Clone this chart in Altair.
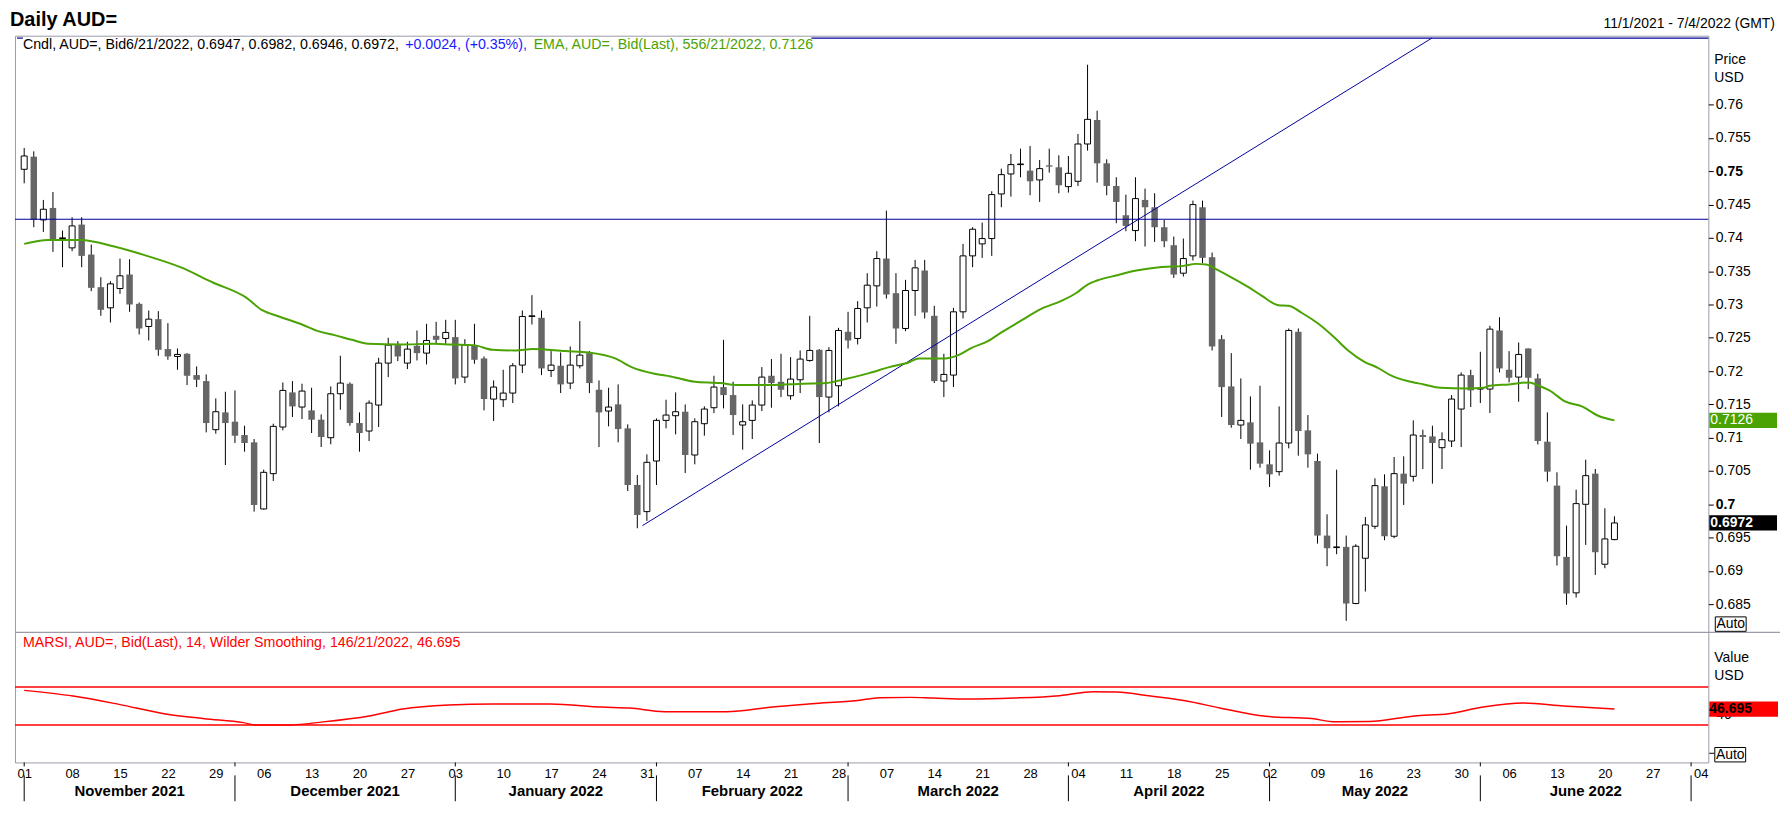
import altair as alt
import pandas as pd

# ---------------- data ----------------
OPEN = [0.7503, 0.7522, 0.7427, 0.7445, 0.7399, 0.7385, 0.7420, 0.7375, 0.7326, 0.7295,
        0.7324, 0.7345, 0.7301, 0.7267, 0.7278, 0.7233, 0.7222, 0.7226, 0.7194, 0.7185,
        0.7112, 0.7138, 0.7124, 0.7104, 0.7093, 0.6993, 0.7046, 0.7116, 0.7168, 0.7146,
        0.7141, 0.7127, 0.7100, 0.7166, 0.7181, 0.7122, 0.7110, 0.7149, 0.7212, 0.7239,
        0.7212, 0.7238, 0.7227, 0.7253, 0.7249, 0.7251, 0.7191, 0.7238, 0.7219, 0.7158,
        0.7157, 0.7167, 0.7209, 0.7282, 0.7280, 0.7201, 0.7208, 0.7182, 0.7208, 0.7227,
        0.7172, 0.7140, 0.7150, 0.7114, 0.7029, 0.6989, 0.7065, 0.7126, 0.7133, 0.7139,
        0.7074, 0.7121, 0.7145, 0.7176, 0.7164, 0.7119, 0.7126, 0.7149, 0.7193, 0.7184,
        0.7163, 0.7187, 0.7216, 0.7232, 0.7161, 0.7178, 0.7259, 0.7249, 0.7295, 0.7328,
        0.7369, 0.7317, 0.7264, 0.7321, 0.7351, 0.7283, 0.7185, 0.7194, 0.7289, 0.7373,
        0.7391, 0.7399, 0.7466, 0.7496, 0.7510, 0.7501, 0.7487, 0.7509, 0.7506, 0.7477,
        0.7485, 0.7541, 0.7577, 0.7512, 0.7478, 0.7434, 0.7411, 0.7457, 0.7446, 0.7416,
        0.7389, 0.7347, 0.7373, 0.7446, 0.7371, 0.7248, 0.7177, 0.7119, 0.7123, 0.7093,
        0.7060, 0.7049, 0.7092, 0.7259, 0.7111, 0.7065, 0.6953, 0.6935, 0.6936, 0.6851,
        0.6919, 0.6967, 0.7027, 0.6952, 0.7046, 0.7042, 0.7104, 0.7102, 0.7085, 0.7095,
        0.7143, 0.7194, 0.7173, 0.7173, 0.7261, 0.7202, 0.7191, 0.7234, 0.7189, 0.7094,
        0.7028, 0.6921, 0.6867, 0.7000, 0.7046, 0.6910, 0.6947]
HIGH = [0.7535, 0.7530, 0.7457, 0.7469, 0.7411, 0.7431, 0.7431, 0.7390, 0.7341, 0.7335,
        0.7369, 0.7368, 0.7303, 0.7291, 0.7290, 0.7272, 0.7234, 0.7227, 0.7207, 0.7195,
        0.7159, 0.7169, 0.7171, 0.7118, 0.7098, 0.7052, 0.7121, 0.7183, 0.7185, 0.7181,
        0.7175, 0.7135, 0.7177, 0.7223, 0.7183, 0.7138, 0.7156, 0.7220, 0.7250, 0.7245,
        0.7244, 0.7261, 0.7271, 0.7274, 0.7277, 0.7277, 0.7248, 0.7271, 0.7222, 0.7186,
        0.7202, 0.7212, 0.7291, 0.7314, 0.7291, 0.7230, 0.7228, 0.7237, 0.7275, 0.7230,
        0.7186, 0.7175, 0.7180, 0.7120, 0.7044, 0.7075, 0.7129, 0.7157, 0.7168, 0.7150,
        0.7129, 0.7147, 0.7193, 0.7247, 0.7184, 0.7150, 0.7156, 0.7206, 0.7218, 0.7226,
        0.7221, 0.7231, 0.7283, 0.7233, 0.7236, 0.7265, 0.7289, 0.7305, 0.7347, 0.7380,
        0.7441, 0.7347, 0.7337, 0.7367, 0.7367, 0.7298, 0.7226, 0.7295, 0.7391, 0.7416,
        0.7423, 0.7470, 0.7504, 0.7526, 0.7534, 0.7538, 0.7517, 0.7534, 0.7524, 0.7523,
        0.7556, 0.7660, 0.7591, 0.7518, 0.7491, 0.7465, 0.7491, 0.7474, 0.7467, 0.7427,
        0.7402, 0.7399, 0.7456, 0.7456, 0.7378, 0.7254, 0.7227, 0.7189, 0.7162, 0.7178,
        0.7081, 0.7147, 0.7264, 0.7264, 0.7134, 0.7076, 0.6985, 0.7052, 0.6953, 0.6940,
        0.6981, 0.7039, 0.7045, 0.7071, 0.7072, 0.7126, 0.7112, 0.7118, 0.7108, 0.7164,
        0.7198, 0.7202, 0.7229, 0.7268, 0.7281, 0.7230, 0.7243, 0.7234, 0.7196, 0.7138,
        0.7048, 0.6968, 0.7022, 0.7067, 0.7053, 0.6994, 0.6982]
LOW = [0.7482, 0.7416, 0.7409, 0.7379, 0.7356, 0.7380, 0.7356, 0.7320, 0.7283, 0.7273,
       0.7316, 0.7289, 0.7255, 0.7246, 0.7223, 0.7217, 0.7202, 0.7179, 0.7176, 0.7108,
       0.7106, 0.7059, 0.7092, 0.7079, 0.6989, 0.6992, 0.7035, 0.7111, 0.7131, 0.7128,
       0.7107, 0.7086, 0.7090, 0.7142, 0.7118, 0.7079, 0.7095, 0.7116, 0.7191, 0.7215,
       0.7203, 0.7216, 0.7210, 0.7241, 0.7241, 0.7180, 0.7182, 0.7211, 0.7141, 0.7125,
       0.7146, 0.7152, 0.7197, 0.7270, 0.7194, 0.7191, 0.7167, 0.7173, 0.7204, 0.7167,
       0.7086, 0.7117, 0.7093, 0.7020, 0.6964, 0.6975, 0.7029, 0.7114, 0.7105, 0.7047,
       0.7060, 0.7103, 0.7137, 0.7144, 0.7104, 0.7082, 0.7098, 0.7140, 0.7145, 0.7161,
       0.7157, 0.7167, 0.7214, 0.7092, 0.7138, 0.7147, 0.7234, 0.7240, 0.7273, 0.7297,
       0.7309, 0.7241, 0.7260, 0.7283, 0.7279, 0.7182, 0.7161, 0.7176, 0.7279, 0.7356,
       0.7370, 0.7373, 0.7446, 0.7462, 0.7491, 0.7464, 0.7454, 0.7498, 0.7467, 0.7468,
       0.7478, 0.7531, 0.7483, 0.7464, 0.7422, 0.7410, 0.7395, 0.7387, 0.7394, 0.7386,
       0.7340, 0.7342, 0.7366, 0.7362, 0.7231, 0.7131, 0.7115, 0.7098, 0.7052, 0.7055,
       0.7026, 0.7043, 0.7084, 0.7073, 0.7055, 0.6941, 0.6907, 0.6925, 0.6825, 0.6850,
       0.6869, 0.6963, 0.6946, 0.6949, 0.6999, 0.7034, 0.7053, 0.7031, 0.7053, 0.7086,
       0.7086, 0.7146, 0.7152, 0.7137, 0.7198, 0.7183, 0.7154, 0.7173, 0.7090, 0.7034,
       0.6908, 0.6849, 0.6860, 0.6939, 0.6894, 0.6904, 0.6946]
CLOSE = [0.7523, 0.7427, 0.7443, 0.7396, 0.7400, 0.7418, 0.7373, 0.7325, 0.7292, 0.7331,
         0.7343, 0.7300, 0.7264, 0.7278, 0.7232, 0.7222, 0.7225, 0.7193, 0.7187, 0.7122,
         0.7139, 0.7122, 0.7103, 0.7092, 0.6999, 0.7048, 0.7117, 0.7171, 0.7147, 0.7170,
         0.7127, 0.7101, 0.7166, 0.7182, 0.7122, 0.7107, 0.7152, 0.7212, 0.7239, 0.7222,
         0.7233, 0.7227, 0.7246, 0.7247, 0.7258, 0.7189, 0.7239, 0.7217, 0.7158, 0.7176,
         0.7167, 0.7208, 0.7282, 0.7283, 0.7204, 0.7209, 0.7180, 0.7209, 0.7224, 0.7182,
         0.7138, 0.7146, 0.7113, 0.7029, 0.6984, 0.7063, 0.7126, 0.7134, 0.7139, 0.7074,
         0.7124, 0.7143, 0.7176, 0.7164, 0.7134, 0.7124, 0.7149, 0.7191, 0.7182, 0.7172,
         0.7188, 0.7218, 0.7231, 0.7161, 0.7231, 0.7261, 0.7246, 0.7294, 0.7329, 0.7369,
         0.7315, 0.7264, 0.7321, 0.7355, 0.7288, 0.7185, 0.7195, 0.7289, 0.7373, 0.7413,
         0.7399, 0.7465, 0.7495, 0.7510, 0.7511, 0.7485, 0.7504, 0.7507, 0.7479, 0.7497,
         0.7541, 0.7578, 0.7512, 0.7478, 0.7454, 0.7418, 0.7459, 0.7446, 0.7416, 0.7395,
         0.7345, 0.7369, 0.7450, 0.7370, 0.7237, 0.7176, 0.7119, 0.7126, 0.7091, 0.7061,
         0.7045, 0.7092, 0.7261, 0.7110, 0.7075, 0.6953, 0.6934, 0.6936, 0.6851, 0.6937,
         0.6969, 0.7028, 0.6952, 0.7046, 0.7031, 0.7104, 0.7101, 0.7092, 0.7097, 0.7158,
         0.7194, 0.7171, 0.7174, 0.7263, 0.7204, 0.7190, 0.7225, 0.7190, 0.7095, 0.7049,
         0.6922, 0.6866, 0.7001, 0.7043, 0.6928, 0.6948, 0.6972]

EMA_X = [0, 2.5, 5.9, 9.4, 12.8, 16.3, 19.7, 23.1, 24.9, 26.6,
         29.0, 30.7, 32.4, 34.2, 35.9, 39.3, 42.8, 44.5, 46.9, 48.9,
         51.3, 53.1, 56.5, 58.9, 61.7, 63.4, 65.8, 67.5, 70.0, 72.7,
         74.4, 77.9, 81.3, 83.7, 85.4, 88.2, 90.3, 92.3, 93.4, 96.1,
         97.5, 98.9, 100.6, 102.0, 104.1, 106.1, 108.2, 109.9, 111.0, 112.0,
         114.1, 116.1, 118.5, 121.0, 122.3, 123.4, 124.4, 126.1, 127.8, 129.2,
         130.9, 132.0, 133.3, 135.1, 136.8, 138.2, 139.9, 141.3, 142.6, 144.4,
         146.1, 147.8, 150.6, 152.3, 153.0, 155.0, 157.1, 158.1, 159.2, 160.9,
         162.6, 164.3, 166.0]
EMA_Y = [0.7391, 0.7397, 0.7397, 0.7387, 0.7373, 0.7356, 0.7333, 0.7311, 0.7291, 0.7282,
         0.7270, 0.7260, 0.7254, 0.7247, 0.7241, 0.7240, 0.7241, 0.7240, 0.7239, 0.7232,
         0.7231, 0.7233, 0.7230, 0.7228, 0.7219, 0.7206, 0.7196, 0.7192, 0.7184, 0.7182,
         0.7179, 0.7179, 0.7181, 0.7182, 0.7187, 0.7197, 0.7206, 0.7213, 0.7219, 0.7219,
         0.7224, 0.7235, 0.7245, 0.7258, 0.7276, 0.7293, 0.7305, 0.7318, 0.7330, 0.7336,
         0.7344, 0.7351, 0.7356, 0.7358, 0.7361, 0.7360, 0.7353, 0.7340, 0.7326, 0.7313,
         0.7299, 0.7298, 0.7288, 0.7271, 0.7250, 0.7231, 0.7214, 0.7205, 0.7194, 0.7185,
         0.7180, 0.7175, 0.7174, 0.7175, 0.7178, 0.7180, 0.7183, 0.7178, 0.7171, 0.7154,
         0.7147, 0.7133, 0.7126]

RSI_X = [0, 5.1, 9.9, 14.6, 18.8, 22.9, 24.1, 27.7, 31.2, 36.0,
         39.5, 44.3, 49.0, 54.9, 60.3, 63.2, 66.8, 73.3, 78.1, 82.2,
         87.0, 89.3, 92.5, 94.9, 98.5, 103.3, 108.1, 111.6, 114.0, 117.6,
         121.2, 124.8, 129.6, 134.4, 136.8, 140.4, 145.1, 148.7, 152.3, 156.5,
         160.7, 166]
RSI_Y = [66.5, 60.5, 51.7, 41.9, 36.6, 32.4, 30.0, 30.0, 33.2, 39.5,
         46.8, 51.0, 52.1, 52.1, 48.9, 47.8, 44.0, 44.0, 48.9, 52.4,
         55.9, 58.7, 59.1, 58.4, 57.4, 58.4, 60.9, 65.1, 64.7, 60.5,
         55.6, 47.9, 39.1, 36.7, 33.2, 33.5, 39.5, 41.9, 48.9, 53.1,
         50.0, 46.695]
RSI_LEVELS = [30, 70]
RSI_TICKS = [0, 40]
RSI_LABELS = [40]

HLINE = [0.7428]
TOPLINE = [0.77]
TREND_X = [64.54, 146.94]
TREND_Y = [0.6968, 0.77]

PRICE_TICKS = [0.685, 0.69, 0.695, 0.7, 0.705, 0.71, 0.715, 0.72, 0.725,
               0.73, 0.735, 0.74, 0.745, 0.75, 0.755, 0.76]
DAY_LABELS = ['01', '08', '15', '22', '29', '06', '13', '20', '27',
              '03', '10', '17', '24', '31', '07', '14', '21', '28',
              '07', '14', '21', '28', '04', '11', '18', '25',
              '02', '09', '16', '23', '30', '06', '13', '20', '27', '04']
MONTH_LABELS = ['November 2021', 'December 2021', 'January 2022', 'February 2022',
                'March 2022', 'April 2022', 'May 2022', 'June 2022']
MONTH_START = [0, 22, 45, 66, 86, 109, 130, 152, 174]

# ---------------- frames ----------------
n = len(CLOSE)
candles = pd.DataFrame({'i': list(range(n)), 'o': OPEN, 'h': HIGH, 'l': LOW, 'c': CLOSE})
ema_df = pd.DataFrame({'i': EMA_X, 'v': EMA_Y})
rsi_df = pd.DataFrame({'i': RSI_X, 'v': RSI_Y})
trend_df = pd.DataFrame({'i': TREND_X, 'v': TREND_Y})
month_df = pd.DataFrame({'i': MONTH_START})
mlab_df = pd.DataFrame({'i': [(MONTH_START[k] + MONTH_START[k + 1]) / 2 for k in range(len(MONTH_LABELS))],
                        't': MONTH_LABELS})
DUMMY = pd.DataFrame({'a': [0]})

FONT = 'Liberation Sans'
NARROW = 'Liberation Sans Narrow, Liberation Sans'
GREEN = '#4aa302'
NAVY = '#00009c'
FRAME = '#9a9aa8'
W, H = 1701, 730

XS = alt.Scale(domain=[-0.444, 175.28], nice=False, zero=False)
PY = alt.Scale(domain=[0.66124, 0.77036], nice=False, zero=False)
RY = alt.Scale(domain=[-9.68, 758.7], nice=False, zero=False)

day_expr = '[' + ','.join("'%s'" % d for d in DAY_LABELS) + '][round(datum.value / 5)]'
X_AXIS = alt.Axis(values=list(range(0, 176, 5)), labelExpr=day_expr, ticks=False, domain=False,
                  grid=False, labelFontSize=13, labelFont=NARROW, labelColor='black',
                  labelPadding=5, labelOverlap=False, labelFlush=False, title=None)
X = alt.X('i:Q', scale=XS, axis=X_AXIS)

P_AXIS = alt.Axis(orient='right', values=PRICE_TICKS, format='.3~f', tickSize=5, tickColor='black',
                  tickWidth=1, labelPadding=2, domain=False, grid=False, labelFontSize=14,
                  labelFont=FONT, labelColor='black', labelOverlap=False, labelBound=False,
                  labelFlush=False, title=None,
                  labelFontWeight={'condition': {'test': 'datum.value == 0.75 || datum.value == 0.7',
                                                 'value': 'bold'}, 'value': 'normal'})


def PYenc(field):
    return alt.Y(field, scale=PY, axis=P_AXIS)


def txt(s, x, y, size=14, color='black', weight='normal', align='left', font=FONT, baseline='middle'):
    return alt.Chart(DUMMY).mark_text(text=s, align=align, baseline=baseline, fontSize=size,
                                      color=color, fontWeight=weight, font=font).encode(
        x=alt.value(x), y=alt.value(y))


# ---------------- price panel ----------------
wicks = alt.Chart(candles).mark_rule(color='black', strokeWidth=1).encode(
    x=X, y=PYenc('l:Q'), y2='h:Q')
up = alt.Chart(candles).transform_filter('datum.c >= datum.o').mark_bar(
    fill='white', stroke='black', strokeWidth=1, size=6).encode(
    x=X, y=PYenc('o:Q'), y2='c:Q')
down = alt.Chart(candles).transform_filter('datum.c < datum.o').mark_bar(
    fill='#666666', size=6.5).encode(
    x=X, y=PYenc('o:Q'), y2='c:Q')
ema = alt.Chart(ema_df).mark_line(color=GREEN, strokeWidth=2, interpolate='monotone').encode(
    x=X, y=PYenc('v:Q'))
hline = alt.Chart(pd.DataFrame({'v': HLINE})).mark_rule(color=NAVY, strokeWidth=1.2).encode(
    y=PYenc('v:Q'))
topline_r = alt.Chart(pd.DataFrame({'v': TOPLINE})).mark_rule(color=NAVY, strokeWidth=1.2).encode(
    x=alt.value(800), x2=alt.value(W), y=PYenc('v:Q'))
topline_l = alt.Chart(pd.DataFrame({'v': TOPLINE})).mark_rule(color=NAVY, strokeWidth=1.2).encode(
    x=alt.value(2), x2=alt.value(8), y=PYenc('v:Q'))
trend = alt.Chart(trend_df).mark_line(color=NAVY, strokeWidth=1).encode(
    x=X, y=PYenc('v:Q'))

box_ema = alt.Chart(pd.DataFrame({'v': [EMA_Y[-1]]})).transform_calculate(
    lo='datum.v - 0.00115', hi='datum.v + 0.00115').mark_rect(color=GREEN).encode(
    x=alt.value(1702), x2=alt.value(1770), y=PYenc('lo:Q'), y2='hi:Q')
box_ema_t = alt.Chart(pd.DataFrame({'v': [EMA_Y[-1]]})).mark_text(
    align='left', baseline='middle', color='white', fontSize=14, font=FONT).encode(
    x=alt.value(1703), y=PYenc('v:Q'), text=alt.Text('v:Q', format='.4f'))
box_cl = alt.Chart(pd.DataFrame({'v': [CLOSE[-1]]})).transform_calculate(
    lo='datum.v - 0.00115', hi='datum.v + 0.00115').mark_rect(color='black').encode(
    x=alt.value(1702), x2=alt.value(1770), y=PYenc('lo:Q'), y2='hi:Q')
box_cl_t = alt.Chart(pd.DataFrame({'v': [CLOSE[-1]]})).mark_text(
    align='left', baseline='middle', color='white', fontSize=14, fontWeight='bold', font=FONT).encode(
    x=alt.value(1703), y=PYenc('v:Q'), text=alt.Text('v:Q', format='.4f'))

price = alt.layer(wicks, up, down, hline, topline_r, topline_l, trend, ema,
                  box_ema, box_ema_t, box_cl, box_cl_t)

# ---------------- RSI panel ----------------
levels = alt.Chart(pd.DataFrame({'v': RSI_LEVELS})).mark_rule(color='red', strokeWidth=1.5).encode(
    y=alt.Y('v:Q', scale=RY, axis=None))
rsi_line = alt.Chart(rsi_df).mark_line(color='red', strokeWidth=1.5, interpolate='monotone').encode(
    x=X, y=alt.Y('v:Q', scale=RY, axis=None))
rsi_ticks = alt.Chart(pd.DataFrame({'v': RSI_TICKS})).mark_rule(color='black', strokeWidth=1).encode(
    x=alt.value(W + 1), x2=alt.value(W + 6), y=alt.Y('v:Q', scale=RY, axis=None))
rsi_tick_lab = alt.Chart(pd.DataFrame({'v': RSI_LABELS})).mark_text(
    align='left', baseline='middle', fontSize=14, font=FONT, color='black').encode(
    x=alt.value(W + 8), y=alt.Y('v:Q', scale=RY, axis=None), text=alt.Text('v:Q', format='d'))
box_rsi = alt.Chart(pd.DataFrame({'v': [RSI_Y[-1]]})).transform_calculate(
    lo='datum.v - 8.1', hi='datum.v + 8.1').mark_rect(color='#ff0000').encode(
    x=alt.value(1702), x2=alt.value(1771), y=alt.Y('lo:Q', scale=RY, axis=None), y2='hi:Q')
box_rsi_t = alt.Chart(pd.DataFrame({'v': [RSI_Y[-1]]})).mark_text(
    align='left', baseline='middle', color='black', fontSize=14, fontWeight='bold', font=FONT).encode(
    x=alt.value(1702), y=alt.Y('v:Q', scale=RY, axis=None), text=alt.Text('v:Q', format='.3f'))

rsi = alt.layer(levels, rsi_line, rsi_ticks, rsi_tick_lab, box_rsi, box_rsi_t)

# ---------------- x-axis month decorations ----------------
month_ticks = alt.Chart(month_df).mark_rule(color='black', strokeWidth=1).encode(
    x=X, y=alt.value(H), y2=alt.value(H + 4))
month_seps = alt.Chart(month_df).mark_rule(color='black', strokeWidth=1).encode(
    x=X, y=alt.value(H + 13), y2=alt.value(H + 39))
month_text = alt.Chart(mlab_df).mark_text(fontSize=15, fontWeight='bold', font=FONT,
                                          baseline='middle', color='black').encode(
    x=X, y=alt.value(H + 29), text='t:N')

# ---------------- chrome / texts ----------------
sep = alt.Chart(DUMMY).mark_rule(color=FRAME, strokeWidth=1.3).encode(
    x=alt.value(0), x2=alt.value(W + 72), y=alt.value(599.3))


def auto_box(x, y):
    return [alt.Chart(DUMMY).mark_rect(fill='white', stroke='black', strokeWidth=1).encode(
        x=alt.value(x), x2=alt.value(x + 31), y=alt.value(y), y2=alt.value(y + 14.5)),
        txt('Auto', x + 15.5, y + 7.5, size=14, align='center')]


chrome = [
    sep,
    txt('Daily AUD=', -5, -10, size=20, weight='bold', baseline='alphabetic'),
    txt('11/1/2021 - 7/4/2022 (GMT)', 1768, -12, size=14, align='right'),
    txt('Cndl, AUD=, Bid6/21/2022, 0.6947, 0.6982, 0.6946, 0.6972,', 8, 9.5, size=14.3),
    txt('+0.0024, (+0.35%),', 392, 9.5, size=14.3, color='#1a1aff'),
    txt('EMA, AUD=, Bid(Last),  556/21/2022, 0.7126', 521, 9.5, size=14.3, color=GREEN),
    txt('MARSI, AUD=, Bid(Last),  14, Wilder Smoothing, 146/21/2022, 46.695', 8, 610.5,
        size=14.3, color='red'),
    txt('Price', 1707, 24), txt('USD', 1707, 43),
    txt('Value', 1707, 625), txt('USD', 1707, 643),
] + auto_box(1708, 583.8) + auto_box(1707.5, 715)

chart = alt.layer(price, rsi, month_ticks, month_seps, month_text, *chrome).resolve_scale(
    y='independent'
).properties(
    width=W, height=H,
    padding={'left': 7, 'top': 26, 'right': 72, 'bottom': 55},
    autosize=alt.AutoSizeParams(type='none'),
    background='white'
).configure_view(stroke=FRAME, strokeWidth=1).configure_text(font=FONT)

chart.save('out.html', embed_options={'renderer': 'svg', 'actions': False})
